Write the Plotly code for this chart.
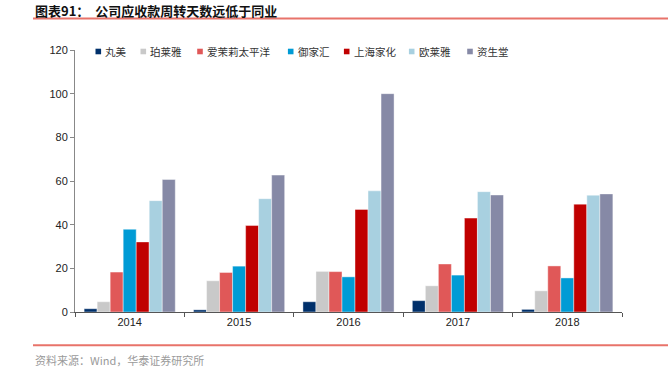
import plotly.graph_objects as go

years = ["2014", "2015", "2016", "2017", "2018"]
series_names = ["丸美", "珀莱雅", "爱茉莉太平洋", "御家汇", "上海家化", "欧莱雅", "资生堂"]
colors = ["#00306B", "#C9C9C9", "#E05858", "#009BD5", "#C00000", "#A8D0E0", "#8689A6"]

wanmei = [1.5, 1.0, 4.7, 5.2, 1.2]
proya = [4.7, 14.3, 18.6, 12.0, 9.7]
amore = [18.3, 18.1, 18.5, 22.0, 21.1]
yujiahui = [37.9, 21.0, 16.1, 16.9, 15.6]
jahwa = [32.1, 39.6, 47.0, 43.0, 49.4]
loreal = [51.0, 51.9, 55.5, 55.1, 53.5]
shiseido = [60.7, 62.7, 100.0, 53.6, 54.1]
series_values = [wanmei, proya, amore, yujiahui, jahwa, loreal, shiseido]

y_ticks = [0, 20, 40, 60, 80, 100, 120]

W, H = 668, 378
plot_left, plot_right, plot_top, plot_bottom = 75, 622, 49.5, 312.3
L = plot_left
R = W - plot_right
T = plot_top
B = H - plot_bottom
pw = plot_right - plot_left
ph = plot_bottom - plot_top

def px(x):
    return (x - plot_left) / pw

def py(y):
    return (plot_bottom - y) / ph

fig = go.Figure()
for name, vals, c in zip(series_names, series_values, colors):
    fig.add_trace(go.Bar(x=years, y=vals, name=name, marker_color=c,
                         marker_line_width=0.6, marker_line_color="rgba(255,255,255,0.7)"))

annotations = []
shapes = []

# legend
leg_marker_x = [98.3, 143.3, 200, 290.7, 346.7, 411.7, 470]
leg_y = 51
for name, c, mx in zip(series_names, colors, leg_marker_x):
    shapes.append(dict(type="rect", xref="paper", yref="paper",
                       x0=px(mx - 2.8), x1=px(mx + 2.8), y0=py(leg_y + 2.8), y1=py(leg_y - 2.8),
                       fillcolor=c, line_width=0))
    annotations.append(dict(xref="paper", yref="paper", x=px(mx + 5), y=py(leg_y),
                            xanchor="left", yanchor="middle", showarrow=False, text=name,
                            font=dict(size=10.5, color="#333333", family="Noto Sans CJK SC")))

# title
annotations.append(dict(xref="paper", yref="paper", x=px(33), y=py(10), xanchor="left", yanchor="middle",
                        showarrow=False, text="<b>图表91：  公司应收款周转天数远低于同业</b>",
                        font=dict(size=13, color="#111111", family="Noto Sans CJK SC")))
shapes.append(dict(type="line", xref="paper", yref="paper", x0=px(33), x1=px(668), y0=py(18), y1=py(18),
                   line=dict(color="#E8736A", width=2)))
# source
shapes.append(dict(type="line", xref="paper", yref="paper", x0=px(33), x1=px(668), y0=py(345.7), y1=py(345.7),
                   line=dict(color="#E8736A", width=2)))
annotations.append(dict(xref="paper", yref="paper", x=px(33), y=py(360), xanchor="left", yanchor="middle",
                        showarrow=False, text="资料来源：Wind，华泰证券研究所",
                        font=dict(size=11, color="#9A9A9A", family="Noto Sans CJK SC")))

fig.update_layout(
    width=W, height=H,
    margin=dict(l=L, r=R, t=T, b=B, pad=0),
    paper_bgcolor="white", plot_bgcolor="white",
    barmode="group", bargap=0.167, bargroupgap=0,
    showlegend=False,
    annotations=annotations, shapes=shapes,
    font=dict(family="Liberation Sans, Arial", size=11, color="#222222"),
)
fig.update_xaxes(type="category", showline=True, linecolor="#555555", linewidth=1,
                 ticks="outside", tickson="boundaries", ticklen=4, tickcolor="#555555",
                 tickfont=dict(size=11, color="#222222"), showgrid=False)
fig.update_yaxes(range=[0, 120], tickvals=y_ticks, showline=True, linecolor="#888888", linewidth=1,
                 ticks="outside", ticklen=4, tickcolor="#888888", showgrid=False, zeroline=False,
                 tickfont=dict(size=11, color="#222222"))

fig.write_html("out.html", config={"displayModeBar": False},
               post_script="document.body.style.margin='0';document.body.style.overflow='hidden';")
